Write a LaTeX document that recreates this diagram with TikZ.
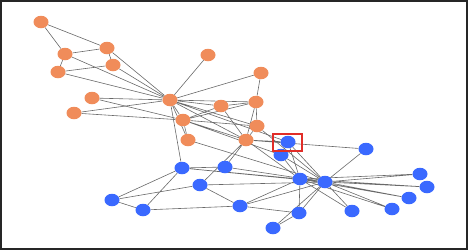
\documentclass[tikz,border=0pt]{standalone}
\usepackage{tikz}
\usetikzlibrary{shapes.geometric, backgrounds}
\definecolor{grporange}{RGB}{240,140,90}
\definecolor{grpblue}{RGB}{58,105,255}
\definecolor{lnkgray}{RGB}{105,105,105}
\definecolor{boxred}{RGB}{225,45,40}

\begin{document}
\begin{tikzpicture}[
    x=1pt, y=-1pt,
    % Node styles
    memnode/.style={
      ellipse, draw=none, inner sep=0pt,
      minimum width=15pt, minimum height=12.5pt
    },
    grpa/.style={memnode, fill=grporange},
    grpb/.style={memnode, fill=grpblue},
    % Line styles
    lnk/.style={draw=lnkgray, line width=0.6pt},
    hilite/.style={draw=boxred, line width=1.2pt}
  ]
  \useasboundingbox (0,0) rectangle (468,250);

  % ============ Orange group ============
  \node[grpa] (n0) at (170,100) {};
  \node[grpa] (n1) at (183,120) {};
  \node[grpa] (n2) at (246,140) {};
  \node[grpa] (n3) at (256,102) {};
  \node[grpa] (n4) at (113,65) {};
  \node[grpa] (n5) at (65,54) {};
  \node[grpa] (n6) at (107,48) {};
  \node[grpa] (n7) at (221,106) {};
  \node[grpa] (n10) at (58,72) {};
  \node[grpa] (n11) at (208,55) {};
  \node[grpa] (n12) at (261,73) {};
  \node[grpa] (n13) at (257,126) {};
  \node[grpa] (n16) at (41,22) {};
  \node[grpa] (n17) at (92,98) {};
  \node[grpa] (n19) at (188,140) {};
  \node[grpa] (n21) at (74,113) {};

  % ============ Blue group ============
  \node[grpb] (n8) at (288,142) {};
  \node[grpb] (n9) at (366,149) {};
  \node[grpb] (n14) at (420,174) {};
  \node[grpb] (n15) at (427,187) {};
  \node[grpb] (n18) at (409,198) {};
  \node[grpb] (n20) at (392,209) {};
  \node[grpb] (n22) at (352,211) {};
  \node[grpb] (n23) at (240,206) {};
  \node[grpb] (n24) at (112,200) {};
  \node[grpb] (n25) at (143,210) {};
  \node[grpb] (n26) at (273,228) {};
  \node[grpb] (n27) at (200,185) {};
  \node[grpb] (n28) at (225,167) {};
  \node[grpb] (n29) at (299,213) {};
  \node[grpb] (n30) at (281,155) {};
  \node[grpb] (n31) at (182,168) {};
  \node[grpb] (n32) at (300,179) {};
  \node[grpb] (n33) at (325,182) {};

  % ============ Highlight box ============
  \node[hilite, rectangle, minimum width=29pt, minimum height=17pt,
    inner sep=0pt] (mark) at (287.5,142.5) {};

  % ============ Links ============
  \begin{scope}[on background layer]
  \draw[lnk] (n0) -- (n1) (n0) -- (n2) (n0) -- (n3) (n0) -- (n4)
    (n0) -- (n5) (n0) -- (n6) (n0) -- (n7) (n0) -- (n8)
    (n0) -- (n10) (n0) -- (n11) (n0) -- (n12) (n0) -- (n13)
    (n0) -- (n17) (n0) -- (n19) (n0) -- (n21) (n0) -- (n31);
  \draw[lnk] (n1) -- (n2) (n1) -- (n3) (n1) -- (n7) (n1) -- (n13)
    (n1) -- (n17) (n1) -- (n19) (n1) -- (n21) (n1) -- (n30);
  \draw[lnk] (n2) -- (n3) (n2) -- (n7) (n2) -- (n8) (n2) -- (n9)
    (n2) -- (n13) (n2) -- (n27) (n2) -- (n28) (n2) -- (n32);
  \draw[lnk] (n3) -- (n7) (n3) -- (n12) (n3) -- (n13);
  \draw[lnk] (n4) -- (n6) (n4) -- (n10)
    (n5) -- (n6) (n5) -- (n10) (n5) -- (n16) (n6) -- (n16);
  \draw[lnk] (n8) -- (n30) (n8) -- (n32) (n8) -- (n33)
    (n9) -- (n33) (n13) -- (n33) (n19) -- (n33);
  % leaves on the right
  \draw[lnk] (n14) -- (n32) (n14) -- (n33) (n15) -- (n32) (n15) -- (n33)
    (n18) -- (n32) (n18) -- (n33) (n20) -- (n32) (n20) -- (n33)
    (n22) -- (n32) (n22) -- (n33);
  \draw[lnk] (n23) -- (n25) (n23) -- (n27) (n23) -- (n29) (n23) -- (n32)
    (n23) -- (n33) (n24) -- (n25) (n24) -- (n27) (n24) -- (n31)
    (n25) -- (n31) (n26) -- (n29) (n26) -- (n33) (n27) -- (n33)
    (n28) -- (n31) (n28) -- (n33) (n29) -- (n32) (n29) -- (n33)
    (n30) -- (n32) (n30) -- (n33) (n31) -- (n32) (n31) -- (n33)
    (n32) -- (n33);
  \end{scope}

  % ============ Frame ============
  \draw[line width=1.5pt, draw=black!85] (0.75,0.75) rectangle (466.75,248.75);
\end{tikzpicture}
\end{document}
